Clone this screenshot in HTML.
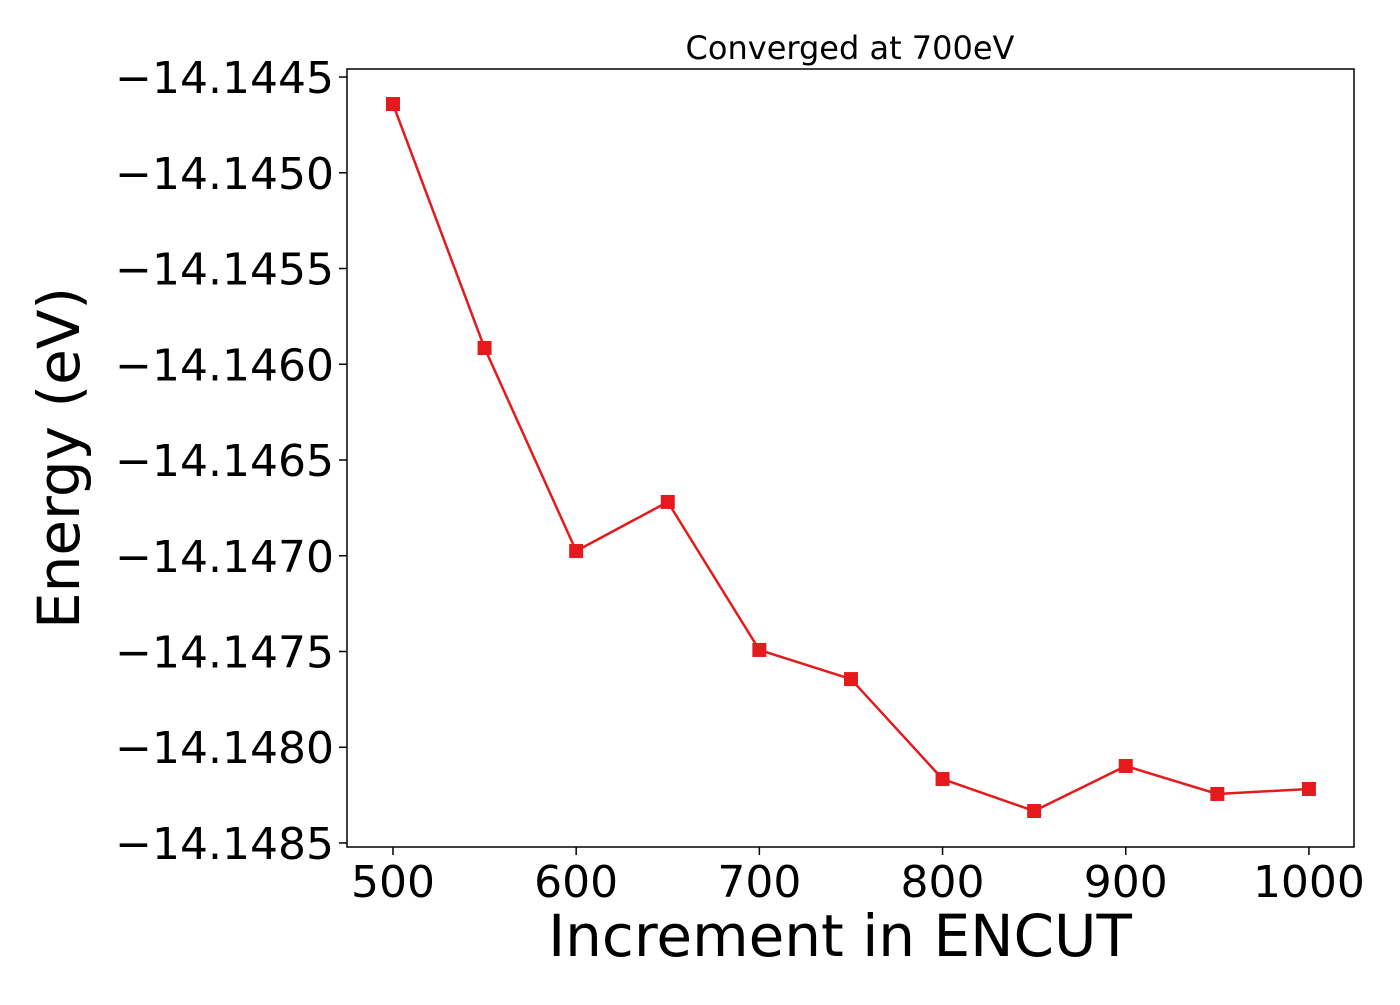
<!DOCTYPE html>
<html><head><meta charset="utf-8"><style>
body{margin:0;background:#fff;}
svg text{font-family:"DejaVu Sans","Liberation Sans",sans-serif;fill:#000;}
</style></head><body>
<svg id="chart" width="1400" height="1000" xmlns="http://www.w3.org/2000/svg">
<text x="850" y="59" font-size="32" text-anchor="middle">Converged at 700eV</text>
<g id="axes"></g>
<text x="840" y="956" font-size="58" text-anchor="middle">Increment in ENCUT</text>
<text transform="translate(79,458) rotate(-90)" font-size="58" text-anchor="middle">Energy (eV)</text>
</svg>
<script>
const encut = [500,550,600,650,700,750,800,850,900,950,1000];
const energy = [-14.144641,-14.145915,-14.146975,-14.146719,-14.147492,-14.147644,-14.148166,-14.148333,-14.148098,-14.148244,-14.148218];
const xTicks = [500,600,700,800,900,1000];
const yTicks = [-14.1445,-14.1450,-14.1455,-14.1460,-14.1465,-14.1470,-14.1475,-14.1480,-14.1485];
const L=347,R=1354,T=69,B=847;
const xMin=474.9,xMax=1024.6,yMin=-14.148521,yMax=-14.144458;
const sx=v=>L+(v-xMin)/(xMax-xMin)*(R-L);
const sy=v=>B-(v-yMin)/(yMax-yMin)*(B-T);
const NS="http://www.w3.org/2000/svg";
const g=document.getElementById('axes');
function mk(t,a){const e=document.createElementNS(NS,t);for(const k in a)e.setAttribute(k,a[k]);g.appendChild(e);return e;}
xTicks.forEach(v=>{
  const l=mk('line',{x1:sx(v),x2:sx(v),y1:B,y2:B+8,stroke:'#000','stroke-width':1.5});
  
  
  const t=mk('text',{x:sx(v),y:B+50,'font-size':44,'text-anchor':'middle'});
  
  
  t.textContent=v;
});
yTicks.forEach(v=>{
  const l=mk('line',{x1:L-8,x2:L,y1:sy(v),y2:sy(v),stroke:'#000','stroke-width':1.5});
  
  
  const t=mk('text',{x:L-13,y:sy(v)+16,'font-size':44,'text-anchor':'end'});
  
  
  t.textContent='\u2212'+Math.abs(v).toFixed(4);
});
const pl=mk('polyline',{points:encut.map((x,i)=>sx(x)+','+sy(energy[i])).join(' '),fill:'none',stroke:'#e41a1c','stroke-width':2.5});


encut.forEach((x,i)=>{
  const r=mk('rect',{x:sx(x)-7,y:sy(energy[i])-7,width:14,height:14,fill:'#e41a1c'});
  
  
});
const f=mk('rect',{x:L,y:T,width:R-L,height:B-T,fill:'none',stroke:'#000','stroke-width':1.5});


</script>
</body></html>
